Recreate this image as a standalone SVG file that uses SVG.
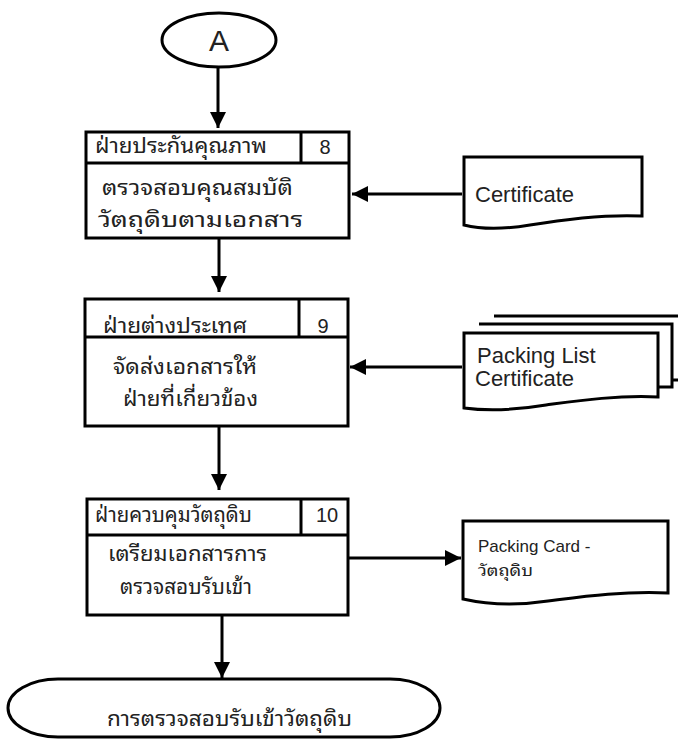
<svg xmlns="http://www.w3.org/2000/svg" width="678" height="744" viewBox="0 0 678 744">
  <style>
    .shape { fill: #ffffff; stroke: #000000; stroke-width: 3; }
    .line { fill: none; stroke: #000000; stroke-width: 3; }
    .conn { fill: none; stroke: #000000; stroke-width: 3; marker-end: url(#arrow); }
    .th { font-family: "Noto Sans Thai Looped", "Noto Sans Thai", "Noto Sans", "DejaVu Sans", sans-serif; fill: #222222; }
    .en { font-family: "Liberation Sans", Arial, sans-serif; fill: #222222; }
    .hdr { font-size: 21px; }
    .body { font-size: 21px; }
    .num { font-family: "Liberation Sans", Arial, sans-serif; font-size: 20px; fill: #222222; text-anchor: middle; }
  </style>
  <defs>
    <marker id="arrow" markerUnits="userSpaceOnUse" markerWidth="16" markerHeight="16" viewBox="0 0 16 16" refX="16" refY="8" orient="auto">
      <path d="M0,0 L16,8 L0,16 Z" fill="#000000"/>
    </marker>
  </defs>

  <!-- connector A -->
  <g id="start-a">
    <ellipse class="shape" cx="219" cy="40" rx="57" ry="27"/>
    <text class="en" x="219" y="51" font-size="30" text-anchor="middle">A</text>
  </g>

  <!-- step 8 -->
  <g id="step-8">
    <rect class="shape" x="86" y="132" width="263" height="106"/>
    <line class="line" x1="86" y1="163" x2="349" y2="163"/>
    <line class="line" x1="301" y1="132" x2="301" y2="163"/>
    <text class="th hdr" x="95" y="153" textLength="172" lengthAdjust="spacingAndGlyphs">ฝ่ายประกันคุณภาพ</text>
    <text class="num" x="325" y="154">8</text>
    <text class="th body" x="102" y="195" textLength="191" lengthAdjust="spacingAndGlyphs">ตรวจสอบคุณสมบัติ</text>
    <text class="th body" x="98" y="227" textLength="205" lengthAdjust="spacingAndGlyphs">วัตถุดิบตามเอกสาร</text>
  </g>

  <!-- step 9 -->
  <g id="step-9">
    <rect class="shape" x="85" y="299" width="263" height="127"/>
    <line class="line" x1="85" y1="337" x2="348" y2="337"/>
    <line class="line" x1="299" y1="299" x2="299" y2="337"/>
    <text class="th hdr" x="103" y="333" textLength="144" lengthAdjust="spacingAndGlyphs">ฝ่ายต่างประเทศ</text>
    <text class="num" x="323" y="333">9</text>
    <text class="th body" x="113" y="374" font-size="20" textLength="144" lengthAdjust="spacingAndGlyphs">จัดส่งเอกสารให้</text>
    <text class="th body" x="123" y="406" font-size="20" textLength="135" lengthAdjust="spacingAndGlyphs">ฝ่ายที่เกี่ยวข้อง</text>
  </g>

  <!-- step 10 -->
  <g id="step-10">
    <rect class="shape" x="87" y="499" width="261" height="116"/>
    <line class="line" x1="87" y1="535" x2="348" y2="535"/>
    <line class="line" x1="301" y1="499" x2="301" y2="535"/>
    <text class="th hdr" x="95" y="522" textLength="157" lengthAdjust="spacingAndGlyphs">ฝ่ายควบคุมวัตถุดิบ</text>
    <text class="num" x="327" y="522">10</text>
    <text class="th body" x="108" y="561" font-size="20" textLength="159" lengthAdjust="spacingAndGlyphs">เตรียมเอกสารการ</text>
    <text class="th body" x="120" y="594" font-size="20" textLength="132" lengthAdjust="spacingAndGlyphs">ตรวจสอบรับเข้า</text>
  </g>

  <!-- end terminator -->
  <g id="end-receive">
    <rect class="shape" x="8" y="679" width="432" height="58" rx="50" ry="29"/>
    <text class="th body" x="107" y="726" font-size="23" textLength="245" lengthAdjust="spacingAndGlyphs">การตรวจสอบรับเข้าวัตถุดิบ</text>
  </g>

  <!-- document: Certificate -->
  <g id="doc-certificate">
    <path class="shape" d="M464,157 H642 V216 C600,214 560,220 530,225 C500,230 480,229 464,225 Z"/>
    <text class="en" x="475" y="202" font-size="22">Certificate</text>
  </g>

  <!-- multiple documents: Packing List / Certificate -->
  <g id="doc-packing-list">
    <path class="shape" d="M494,316 H690 V380 H672"/>
    <path class="shape" d="M479,324 H672 V387 H658"/>
    <path class="shape" d="M464,333 H658 V397 C616,395 576,401 546,405 C516,410 486,411 464,408 Z"/>
    <text class="en" x="477" y="363" font-size="22">Packing List</text>
    <text class="en" x="475" y="386" font-size="22">Certificate</text>
  </g>

  <!-- document: Packing Card -->
  <g id="doc-packing-card">
    <path class="shape" d="M463,521 H668 V593 C620,591 580,597 548,601 C515,606 485,604 463,599 Z"/>
    <text class="en" x="478" y="552" font-size="17">Packing Card -</text>
    <text class="th" x="478" y="576" font-size="16" textLength="55" lengthAdjust="spacingAndGlyphs">วัตถุดิบ</text>
  </g>

  <!-- connectors -->
  <g id="connectors">
    <line class="conn" x1="218" y1="67" x2="218" y2="128"/>
    <line class="conn" x1="219" y1="239" x2="219" y2="292"/>
    <line class="conn" x1="219" y1="427" x2="219" y2="490"/>
    <line class="conn" x1="222" y1="616" x2="222" y2="678"/>
    <line class="conn" x1="462" y1="194" x2="352" y2="194"/>
    <line class="conn" x1="462" y1="367" x2="350" y2="367"/>
    <line class="conn" x1="349" y1="558" x2="461" y2="558"/>
  </g>
</svg>
